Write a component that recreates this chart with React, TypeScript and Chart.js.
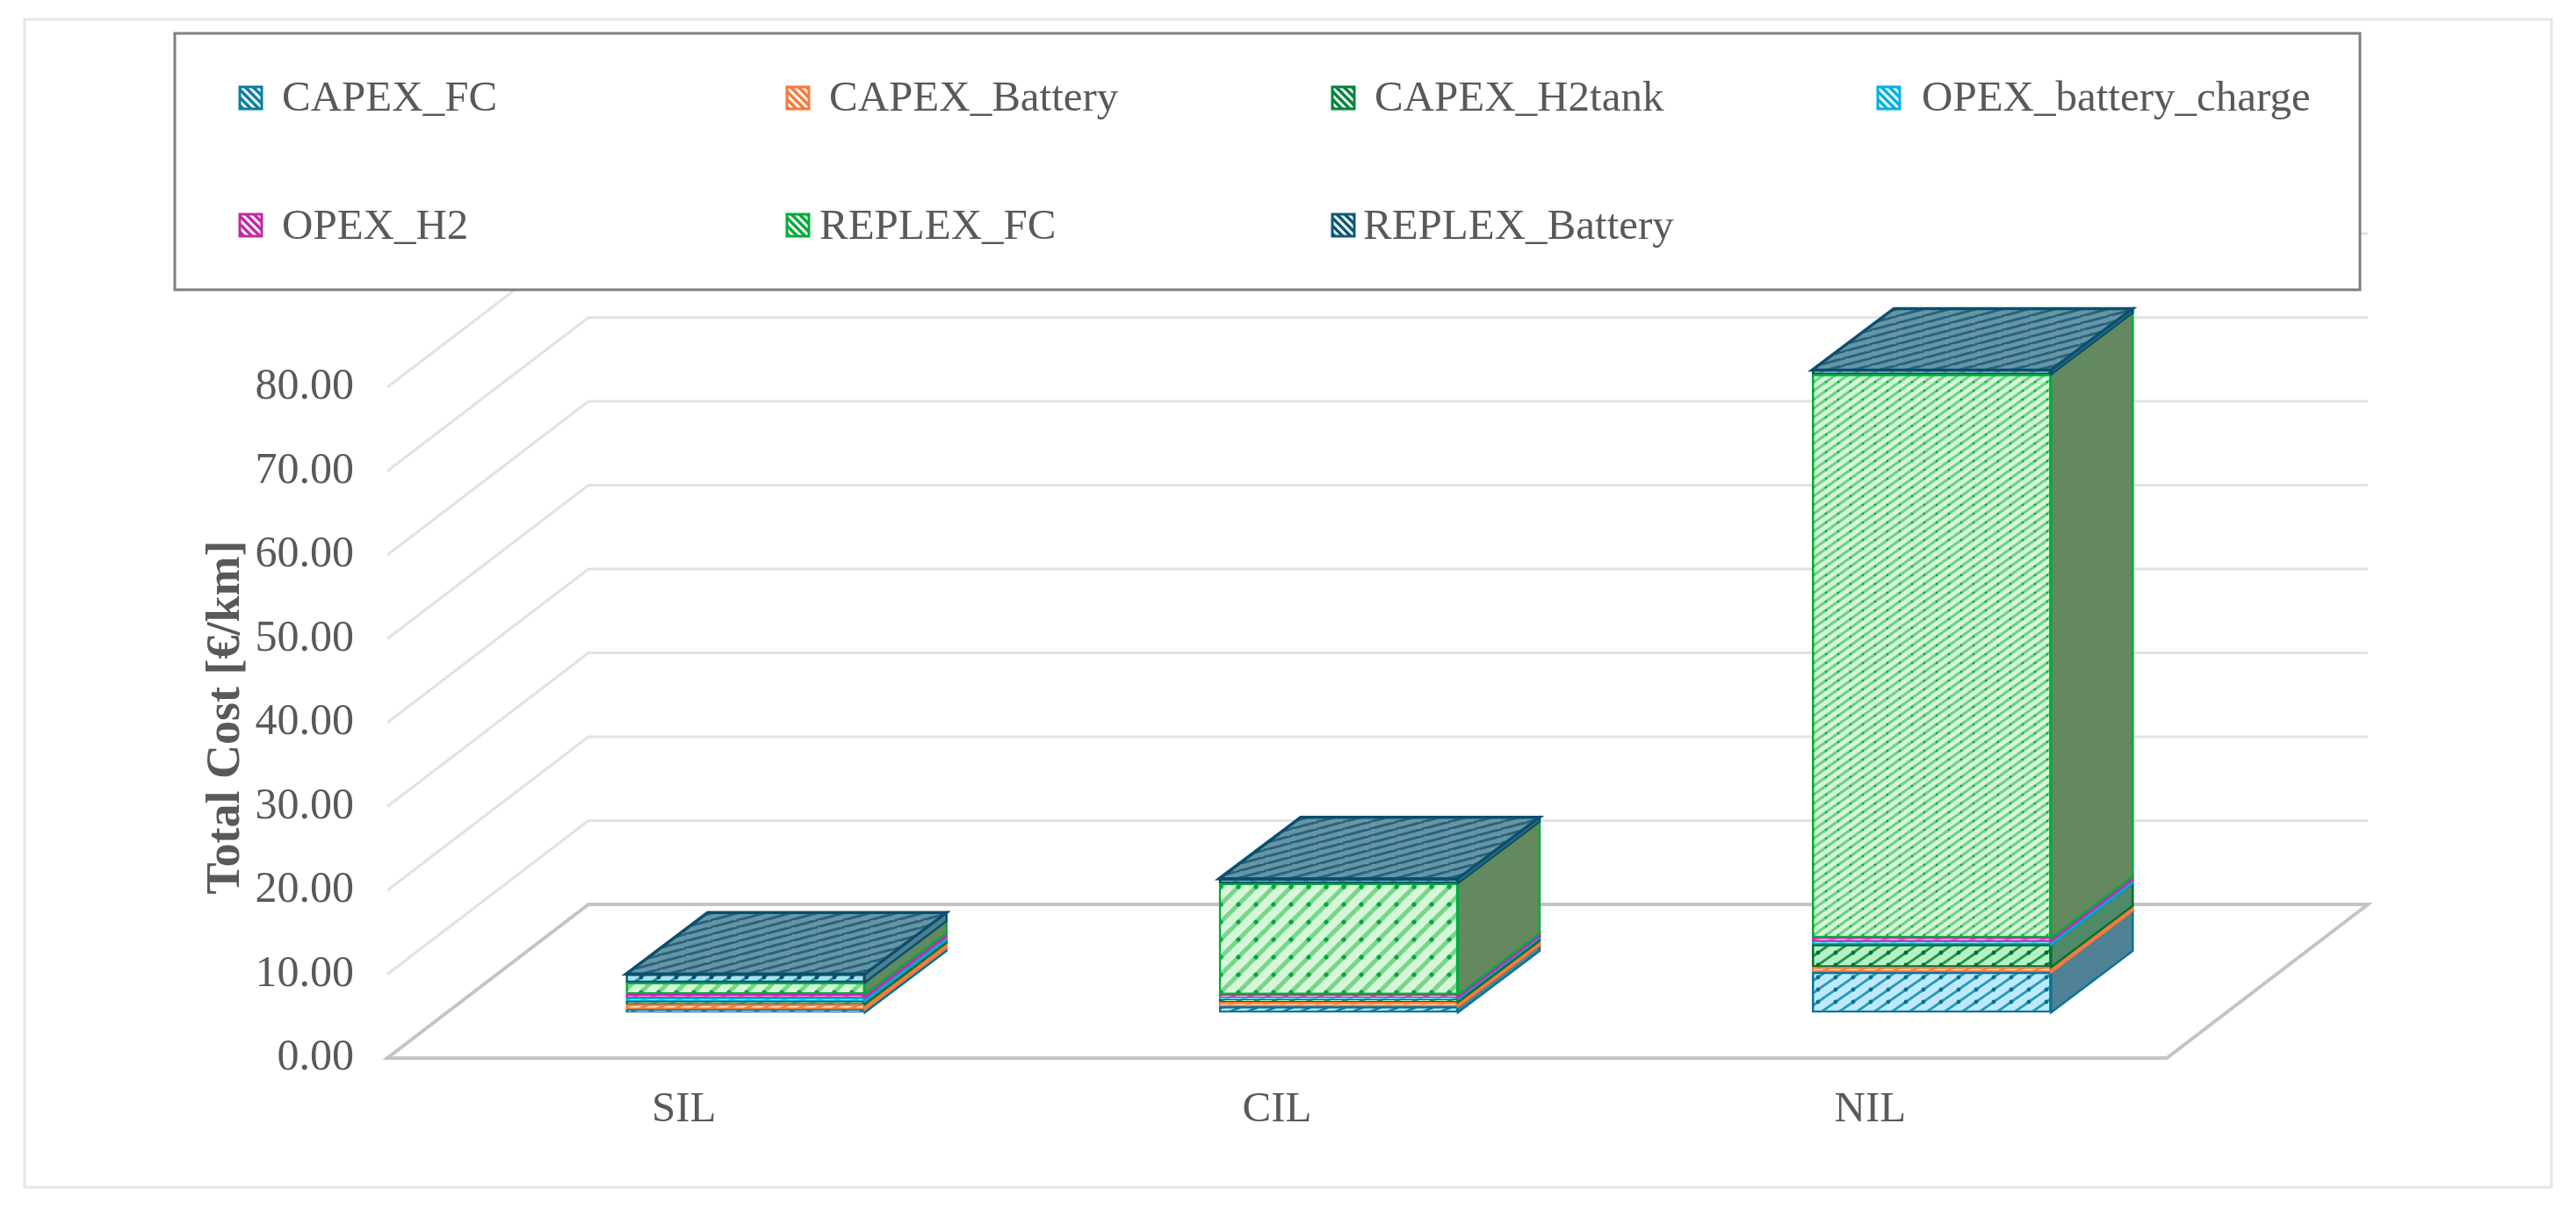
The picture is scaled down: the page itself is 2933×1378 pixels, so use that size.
import React, { useEffect, useRef } from "react";
import { Chart, registerables } from "chart.js";

Chart.register(...registerables);

const categories = ["SIL", "CIL", "NIL"];
const capexFc = [0.35, 0.7, 4.8];
const capexBattery = [0.63, 0.52, 0.6];
const capexH2tank = [0.35, 0.35, 2.7];
const opexBatteryCharge = [0.42, 0.2, 0.4];
const opexH2 = [0.42, 0.35, 0.4];
const replexFc = [1.4, 13.3, 67.2];
const replexBattery = [1.0, 0.52, 0.5];
const yTickLabels = ["0.00", "10.00", "20.00", "30.00", "40.00", "50.00", "60.00", "70.00", "80.00"];

const FONT = '"Liberation Serif"';
const TEXT = "#595959";
const W = 2933;
const H = 1378;

// plot geometry
const AREA = { left: 441, right: 2467, top: 429, bottom: 1205 };
const PX_PER_UNIT = 9.55;
const FLOOR_DX = 229;
const FLOOR_DY = -175;
const BAR_DX = 93;
const BAR_DY = -70;
const BAR_LIFT_UNITS = 52 / PX_PER_UNIT;
const BAR_SHIFT_CATS = 70 / 675.3;
const Y_MAX = (AREA.bottom - AREA.top) / PX_PER_UNIT;

type Style = { line: string; light: string; side: string; dark: string };
const seriesStyles: Style[] = [
  { line: "#0b7fa3", light: "#bdeafb", side: "#4f8195", dark: "#0a7397" },
  { line: "#f9793a", light: "#ffe3d4", side: "#f07c40", dark: "#f9793a" },
  { line: "#00843e", light: "#b4f1c4", side: "#4e8a68", dark: "#00702f" },
  { line: "#00b0e8", light: "#aee8fb", side: "#0ea6d8", dark: "#00a8e0" },
  { line: "#c22ba6", light: "#f6cdec", side: "#b244a6", dark: "#c22ba6" },
  { line: "#00ac3c", light: "#d6f6d9", side: "#65895f", dark: "#00ac3c" },
  { line: "#0c5a78", light: "#a5e2f6", side: "#4c7f92", dark: "#0a4f6c" },
];
const seriesValues = [capexFc, capexBattery, capexH2tank, opexBatteryCharge, opexH2, replexFc, replexBattery];
const seriesNames = ["CAPEX_FC", "CAPEX_Battery", "CAPEX_H2tank", "OPEX_battery_charge", "OPEX_H2", "REPLEX_FC", "REPLEX_Battery"];

// legend layout: [marker x, text x, row]
const legendSlots = [
  [272, 321, 0],
  [895, 944, 0],
  [1516, 1565, 0],
  [2137, 2188, 0],
  [272, 321, 1],
  [895, 933, 1],
  [1516, 1552, 1],
];
const LEGEND_BOX = { x: 199, y: 38, w: 2488, h: 292 };
const ROW_MARKER_Y = [98, 243];
const ROW_BASELINE = [126, 272];

function hatch(w: number, h: number, light: string, line: string, dot: string, lw: number, dotR: number, back = false) {
  const c = document.createElement("canvas");
  c.width = w;
  c.height = h;
  const g = c.getContext("2d")!;
  g.fillStyle = light;
  g.fillRect(0, 0, w, h);
  g.strokeStyle = line;
  g.lineWidth = lw;
  g.lineCap = "square";
  for (let i = -1; i <= 1; i++) {
    g.beginPath();
    if (back) {
      g.moveTo(i * w, 0);
      g.lineTo(i * w + w, h);
    } else {
      g.moveTo(i * w, h);
      g.lineTo(i * w + w, 0);
    }
    g.stroke();
  }
  if (dotR > 0) {
    g.fillStyle = dot;
    g.beginPath();
    g.arc(w / 2, h / 2, dotR, 0, Math.PI * 2);
    g.fill();
  }
  return c;
}

export default function App() {
  const ref = useRef<HTMLCanvasElement>(null);

  useEffect(() => {
    const canvas = ref.current!;
    const ctx2d = canvas.getContext("2d")!;
    const mk = (c: HTMLCanvasElement) => ctx2d.createPattern(c, "repeat")!;

    const frontPattern = (si: number, ci: number) => {
      const s = seriesStyles[si];
      if (si === 5) {
        return ci === 2
          ? mk(hatch(14, 10, s.light, "#6fd283", "#00a838", 3.2, 1.2))
          : mk(hatch(20, 20, s.light, "#78d68a", "#00a838", 5, 2.6));
      }
      if (si === 0 && ci === 2) return mk(hatch(20, 14, s.light, "#2f97ba", "#0a6f92", 3, 2.4));
      if (si === 2 && ci === 2) return mk(hatch(20, 14, s.light, "#1f9453", "#006f32", 3, 2.4));
      if (si === 6) return mk(hatch(20, 14, s.light, "#2f87a4", "#0a4f6c", 3, 2.4));
      return mk(hatch(20, 8, s.light, s.line, s.dark, 2.5, 1.6));
    };
    const topPattern = mk(hatch(30, 8, "#6596a8", "#2a6278", "#0a4f6c", 3, 0));
    const sidePatterns = seriesStyles.map((s) => mk(hatch(10, 12, s.side, s.side, s.dark, 1, 0, true)));
    const legendPatterns = seriesStyles.map((s) => mk(hatch(9, 9, "#ffffff", s.line, s.line, 3.4, 0, true)));

    const scene = {
      id: "scene",
      beforeDatasetsDraw(chart: any) {
        const g = chart.ctx as CanvasRenderingContext2D;
        const y = chart.scales.y;
        const { left, right } = chart.chartArea;
        g.save();
        // outer frame
        g.strokeStyle = "#e6e6e6";
        g.lineWidth = 3;
        g.strokeRect(28, 22, 2877, 1330);
        // wall gridlines
        y.ticks.forEach((t: any) => {
          if (t.value === 0) return;
          const p = y.getPixelForValue(t.value);
          g.strokeStyle = "#e2e2e2";
          g.lineWidth = 3;
          g.beginPath();
          g.moveTo(left, p);
          g.lineTo(left + FLOOR_DX, p + FLOOR_DY);
          g.lineTo(right + FLOOR_DX, p + FLOOR_DY);
          g.stroke();
        });
        // floor
        const p0 = y.getPixelForValue(0);
        g.strokeStyle = "#c4c4c4";
        g.lineWidth = 4;
        g.beginPath();
        g.moveTo(left, p0);
        g.lineTo(right, p0);
        g.lineTo(right + FLOOR_DX, p0 + FLOOR_DY);
        g.lineTo(left + FLOOR_DX, p0 + FLOOR_DY);
        g.closePath();
        g.stroke();
        g.restore();
      },
      afterDatasetsDraw(chart: any) {
        const g = chart.ctx as CanvasRenderingContext2D;
        g.save();
        const last = chart.data.datasets.length - 1;
        chart.data.datasets.forEach((_: any, di: number) => {
          const meta = chart.getDatasetMeta(di);
          const st = seriesStyles[di];
          meta.data.forEach((bar: any) => {
            const r = bar.x + bar.width / 2;
            const l = bar.x - bar.width / 2;
            g.beginPath();
            g.moveTo(r, bar.y);
            g.lineTo(r + BAR_DX, bar.y + BAR_DY);
            g.lineTo(r + BAR_DX, bar.base + BAR_DY);
            g.lineTo(r, bar.base);
            g.closePath();
            g.fillStyle = sidePatterns[di];
            g.fill();
            g.strokeStyle = st.dark;
            g.lineWidth = 2.5;
            g.stroke();
            if (di === last) {
              g.beginPath();
              g.moveTo(l, bar.y);
              g.lineTo(l + BAR_DX, bar.y + BAR_DY);
              g.lineTo(r + BAR_DX, bar.y + BAR_DY);
              g.lineTo(r, bar.y);
              g.closePath();
              g.fillStyle = topPattern;
              g.fill();
              g.strokeStyle = "#0a4f6c";
              g.lineWidth = 3.5;
              g.stroke();
            }
          });
        });
        g.restore();
      },
      afterDraw(chart: any) {
        const g = chart.ctx as CanvasRenderingContext2D;
        g.save();
        g.fillStyle = "#ffffff";
        g.fillRect(LEGEND_BOX.x, LEGEND_BOX.y, LEGEND_BOX.w, LEGEND_BOX.h);
        g.strokeStyle = "#7f7f7f";
        g.lineWidth = 3;
        g.strokeRect(LEGEND_BOX.x, LEGEND_BOX.y, LEGEND_BOX.w, LEGEND_BOX.h);
        g.font = `49px ${FONT}`;
        g.textBaseline = "alphabetic";
        g.textAlign = "left";
        chart.data.datasets.forEach((ds: any, i: number) => {
          const [mx, tx, row] = legendSlots[i];
          const my = ROW_MARKER_Y[row];
          g.fillStyle = legendPatterns[i];
          g.fillRect(mx, my, 27, 27);
          g.strokeStyle = seriesStyles[i].line;
          g.lineWidth = 3;
          g.strokeRect(mx + 1, my + 1, 25, 25);
          g.fillStyle = TEXT;
          g.fillText(ds.label, tx, ROW_BASELINE[row]);
        });
        g.restore();
      },
    };

    const chart = new Chart(canvas, {
      type: "bar",
      data: {
        labels: categories,
        datasets: seriesNames.map((label, si) => ({
          label,
          data: seriesValues[si].map((v, i) => ({ x: i, y: v })),
          backgroundColor: categories.map((_, ci) => frontPattern(si, ci)),
          borderColor: seriesStyles[si].dark,
          borderWidth: 2.5,
          borderSkipped: false,
          barThickness: 272,
          xAxisID: "xBars",
          yAxisID: "yBars",
          clip: false,
        })) as any,
      },
      options: {
        animation: false,
        responsive: false,
        devicePixelRatio: 1,
        events: [],
        layout: { padding: { left: 0, right: W - AREA.right, top: AREA.top, bottom: 0 } },
        plugins: { legend: { display: false }, tooltip: { enabled: false }, title: { display: false } },
        scales: {
          x: {
            type: "category",
            labels: categories,
            position: "bottom",
            grid: { display: false },
            border: { display: false },
            ticks: { color: TEXT, font: { family: FONT, size: 49 }, padding: 22, maxRotation: 0, autoSkip: false },
            afterFit: (s: any) => { s.height = H - AREA.bottom; },
          },
          y: {
            type: "linear",
            position: "left",
            min: 0,
            max: Y_MAX,
            grid: { display: false },
            border: { display: false },
            ticks: {
              stepSize: 10,
              includeBounds: false,
              color: TEXT,
              font: { family: FONT, size: 50 },
              padding: 30,
              autoSkip: false,
              callback: (_v: any, i: number) => yTickLabels[i],
            },
            title: {
              display: true,
              text: "Total Cost [€/km]",
              color: TEXT,
              font: { family: FONT, size: 54, weight: "bold" },
              padding: { top: 226, bottom: 0 },
            },
            afterFit: (s: any) => { s.width = AREA.left; },
          },
          xBars: {
            type: "linear",
            display: false,
            stacked: true,
            offset: false,
            min: -0.5 - BAR_SHIFT_CATS,
            max: 2.5 - BAR_SHIFT_CATS,
          },
          yBars: {
            type: "linear",
            display: false,
            stacked: true,
            min: -BAR_LIFT_UNITS,
            max: Y_MAX - BAR_LIFT_UNITS,
          },
        },
      } as any,
      plugins: [scene as any],
    });
    return () => chart.destroy();
  }, []);

  return (
    <div style={{ position: "fixed", left: 0, top: 0, width: W, height: H, background: "#fff" }}>
      <canvas ref={ref} width={W} height={H} style={{ display: "block", width: W, height: H }} />
    </div>
  );
}
